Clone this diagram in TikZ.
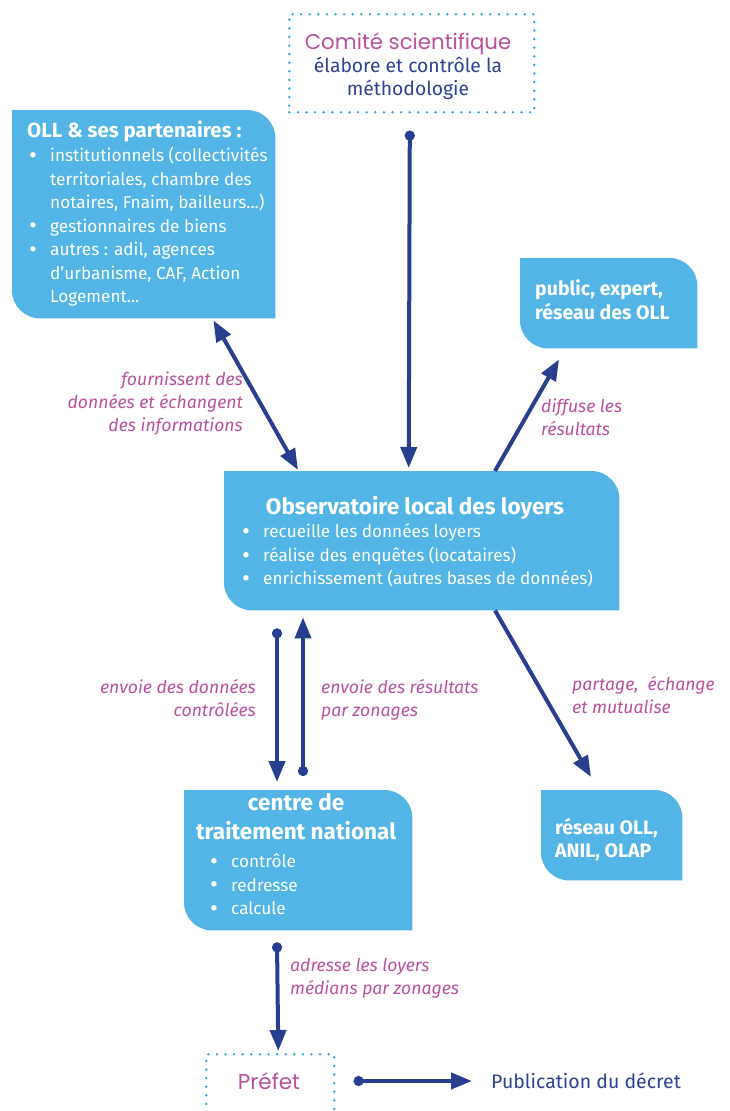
\documentclass[tikz,border=0pt]{standalone}
\usepackage{fontspec}
\setmainfont{Fira Sans}
\newfontfamily\titlefont{Poppins}
\usetikzlibrary{arrows.meta}
\definecolor{ollblue}{RGB}{82,181,230}
\definecolor{arrowblue}{RGB}{40,62,143}
\definecolor{textblue}{RGB}{46,65,147}
\definecolor{ollpurple}{RGB}{184,81,158}
\definecolor{dotblue}{RGB}{42,159,218}

% bullet and hanging indent for the lists
\newcommand{\bul}{\makebox[23pt][l]{\hspace{2pt}\raisebox{-1.6pt}{\fontsize{24}{24}\selectfont\textbullet}}}
\newcommand{\ind}{\hspace*{23pt}}
% blue box with two rounded corners
\newcommand{\leafbox}[1]{%
  \fill[ollblue] (#1.north west) -- ([xshift=-28pt]#1.north east)
    arc[start angle=90,end angle=0,radius=28pt] -- (#1.south east)
    -- ([xshift=28pt]#1.south west)
    arc[start angle=270,end angle=180,radius=28pt] -- cycle;}

\begin{document}
\begin{tikzpicture}[x=1pt,y=-1pt,
    box/.style={inner sep=0pt,anchor=north west},
    dotbox/.style={draw=dotblue,line width=2.6pt,dash pattern=on 0pt off 8.6pt,
      line cap=round,inner sep=0pt,anchor=north west},
    body/.style={text=white,inner sep=0pt,anchor=north west,align=left,
      font=\fontsize{17.2}{23.5}\selectfont},
    head/.style={text=white,inner sep=0pt,font=\fontsize{22.5}{29}\selectfont\bfseries},
    lbl/.style={text=ollpurple,inner sep=0pt,font=\fontsize{17.6}{22.8}\selectfont\itshape},
    flow/.style={draw=arrowblue,line width=4pt},
    dotarrow/.style={flow,arrows={Circle[length=10pt]-Triangle[length=21pt,width=16pt]}},
    twoarrow/.style={flow,arrows={Triangle[length=21pt,width=16pt]-Triangle[length=21pt,width=16pt]}},
    onearrow/.style={flow,arrows={-Triangle[length=21pt,width=16pt]}}]
    \clip (0,0) rectangle (730,1111);

    % Comite scientifique
    \node[dotbox,minimum width=245pt,minimum height=98pt] (comite) at (288,13) {};
    \node[text=ollpurple,inner sep=0pt,font=\titlefont\fontsize{21.3}{24}\selectfont] (comitetitle) at (408,44) {Comité scientifique};
    \node[text=textblue,inner sep=0pt,anchor=north,align=center,font=\fontsize{19.3}{23}\selectfont] (comitetxt) at (408,57) {élabore et contrôle la\\méthodologie};

    % OLL et partenaires
    \node[box,minimum width=263pt,minimum height=208pt] (oll) at (12,110) {};
    \leafbox{oll}
    \node[head,anchor=base west,font=\fontsize{20.5}{24}\selectfont\bfseries] (olltitle) at (27,137) {OLL \& ses partenaires :};
    \node[body] (olltxt) at (27,147) {\bul institutionnels (collectivités\\
      \ind territoriales, chambre des\\ \ind notaires, Fnaim, bailleurs...)\\
      \bul gestionnaires de biens\\ \bul autres : adil, agences\\
      \ind d'urbanisme, CAF, Action\\ \ind Logement...};

    % public
    \node[box,minimum width=177pt,minimum height=90pt] (public) at (520,258) {};
    \leafbox{public}
    \node[head,anchor=north west,align=left,font=\fontsize{19.5}{24}\selectfont\bfseries] (publictxt) at (535,279) {public, expert,\\réseau des OLL};

    % Observatoire
    \node[box,minimum width=395pt,minimum height=139pt] (obs) at (224,471) {};
    \leafbox{obs}
    \node[head,anchor=base] (obstitle) at (415,514) {Observatoire local des loyers};
    \node[body] (obstxt) at (240,524) {\bul recueille les données loyers\\
      \bul réalise des enquêtes (locataires)\\ \bul enrichissement (autres bases de données)};

    % centre de traitement
    \node[box,minimum width=228pt,minimum height=140pt] (centre) at (184,790) {};
    \leafbox{centre}
    \node[head,anchor=north,align=center] (centretitle) at (296,793) {centre de\\traitement national};
    \node[body] (centretxt) at (208,854) {\bul contrôle\\ \bul redresse\\ \bul calcule};

    % reseau
    \node[box,minimum width=141pt,minimum height=90pt] (reseau) at (541,790) {};
    \leafbox{reseau}
    \node[head,anchor=north west,align=left,font=\fontsize{19.5}{23}\selectfont\bfseries] (reseautxt) at (555,818) {réseau OLL,\\ANIL, OLAP};

    % Prefet
    \node[dotbox,minimum width=128pt,minimum height=90pt] (prefet) at (205,1053) {};
    \node[text=ollpurple,inner sep=0pt,font=\titlefont\fontsize{21.5}{24}\selectfont] (prefettxt) at (269,1081) {Préfet};
    \node[text=textblue,inner sep=0pt,anchor=west,font=\fontsize{19.5}{22}\selectfont] (decret) at (491,1081) {Publication du décret};

    % arrows
    \draw[dotarrow] ([xshift=-2pt,yshift=-17pt]comite.south) -- ([xshift=-13pt,yshift=3pt]obs.north);
    \draw[twoarrow] ([xshift=-62pt,yshift=-2pt]oll.south east) -- ([xshift=74pt,yshift=1pt]obs.north west);
    \draw[onearrow] ([xshift=271pt]obs.north west) -- ([xshift=39pt,yshift=-11pt]public.south west);
    \draw[onearrow] ([xshift=271pt]obs.south west) -- ([xshift=50pt,yshift=13pt]reseau.north west);
    \draw[dotarrow] ([xshift=53pt,yshift=-18pt]obs.south west) -- ([xshift=93pt,yshift=8pt]centre.north west);
    \draw[dotarrow] ([xshift=119pt,yshift=14pt]centre.north west) -- ([xshift=79pt,yshift=-7pt]obs.south west);
    \draw[dotarrow] ([xshift=93pt,yshift=-12pt]centre.south west) -- ([xshift=8pt,yshift=2pt]prefet.north);
    \draw[dotarrow] ([xshift=18pt]prefet.east |- prefettxt.center) -- ([xshift=-19pt]decret.west);

    % labels
    \node[lbl,anchor=north east,align=right] (fournir) at (243,372) {fournissent des\\données et échangent\\des informations};
    \node[lbl,anchor=north west,align=left] (diffuse) at (541,399) {diffuse les\\résultats};
    \node[lbl,anchor=north east,align=right] (envoiedon) at (256,679) {envoie des données\\contrôlées};
    \node[lbl,anchor=north west,align=left] (envoieres) at (321,679) {envoie des résultats\\par zonages};
    \node[lbl,anchor=north west,align=left] (partage) at (572,676) {partage,~ échange\\et mutualise};
    \node[lbl,anchor=north west,align=left] (adresse) at (290,958) {adresse les loyers\\médians par zonages};
\end{tikzpicture}
\end{document}
